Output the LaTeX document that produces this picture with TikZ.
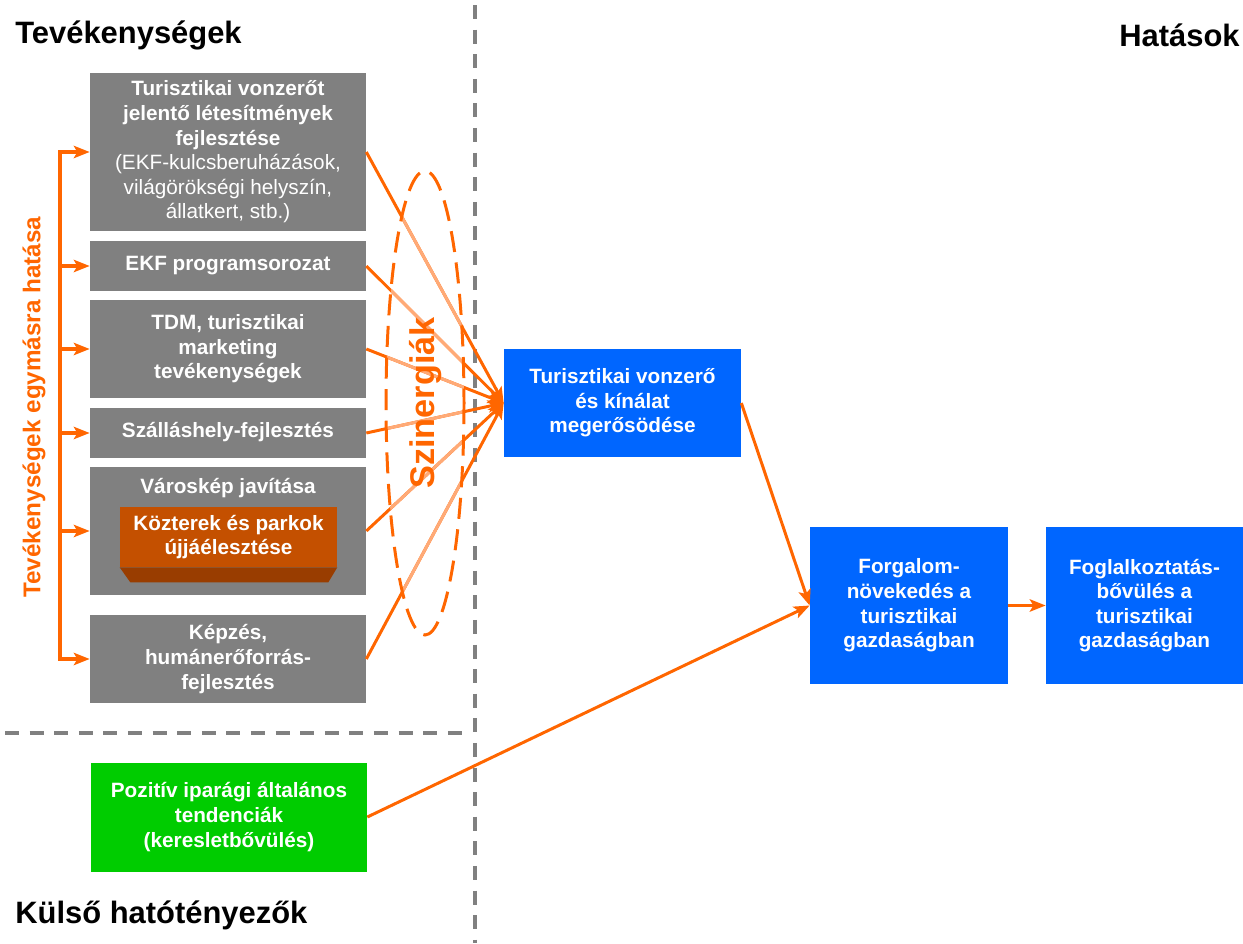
\documentclass[tikz,border=0pt]{standalone}
\usepackage{fontspec}
\setmainfont{Liberation Sans}
\usetikzlibrary{arrows.meta}

\definecolor{effor}{HTML}{FF6600}
\definecolor{efflight}{HTML}{FFAA77}
\definecolor{boxgray}{HTML}{808080}
\definecolor{effblue}{HTML}{0066FF}
\definecolor{effgreen}{HTML}{00CC00}
\definecolor{brick}{HTML}{C45000}
\definecolor{brickdark}{HTML}{993D00}

\begin{document}
\begin{tikzpicture}[x=0.02cm,y=-0.02cm,>={Stealth[length=9pt,width=7pt,inset=2pt]},
        box/.style={text=white,font=\fontsize{11.8}{14}\selectfont\bfseries,align=center,inner sep=0pt},
        gbox/.style={box,fill=boxgray,minimum width=5.52cm},
        bbox/.style={box,fill=effblue},
        hdr/.style={font=\fontsize{17.6}{20}\selectfont\bfseries,inner sep=0pt},
        conn/.style={->,draw=effor,line width=1.7pt},
        soft/.style={draw=efflight,line width=1.7pt},
        brace/.style={draw=effor,line width=2.3pt},
        sep/.style={draw=boxgray,line width=2pt,dash pattern=on 8pt off 6pt}]
        \useasboundingbox (0,0) rectangle (1243,943);

        % separators
        \draw[sep] (475,5) -- (475,943);
        \draw[sep] (5,733) -- (472,733);

        \node[hdr,anchor=base west] (tev) at (15,43) {Tevékenységek};
        \node[hdr,anchor=base east] (hat) at (1240,46) {Hatások};
        \node[hdr,anchor=base west] (kul) at (15,923) {Külső hatótényezők};

        % activities
        \node[gbox,minimum height=3.16cm] (k1) at (228,152) {Turisztikai vonzerőt\\jelentő létesítmények\\fejlesztése\\{\mdseries (EKF-kulcsberuházások,}\\{\mdseries világörökségi helyszín,}\\{\mdseries állatkert, stb.)}};
        \node[gbox,minimum height=1cm] (k2) at (228,266) {\strut EKF programsorozat};
        \node[gbox,minimum height=1.96cm] (k3) at (228,349) {TDM, turisztikai\\marketing\\tevékenységek};
        \node[gbox,minimum height=1cm] (k4) at (228,433) {\strut Szálláshely-fejlesztés};
        \node[gbox,minimum height=2.56cm] (k5) at (228,531) {};
        \node[box] (varos) at (228,489) {\strut Városkép javítása};
        \node[box,fill=brick,minimum width=4.34cm,minimum height=1.2cm] (kozter) at (228.5,537) {Közterek és parkok\\újjáélesztése};
        \fill[brickdark] (kozter.south west) -- (kozter.south east) -- ++(-9,15) -- ++(-198,0) -- cycle;
        \node[gbox,minimum height=1.76cm] (k6) at (228,659) {Képzés,\\humánerőforrás-\\fejlesztés};

        \node[box,fill=effgreen,minimum width=5.52cm,minimum height=2.18cm] (pozitiv) at (229,817) {Pozitív iparági általános\\tendenciák\\(keresletbővülés)};

        % effects
        \node[bbox,minimum width=4.74cm,minimum height=2.16cm] (vonz) at (622.5,403) {Turisztikai vonzerő\\és kínálat\\megerősödése};
        \node[bbox,minimum width=3.96cm,minimum height=3.14cm] (forg) at (909,605.5) {Forgalom-\\növekedés a\\turisztikai\\gazdaságban};
        \node[bbox,minimum width=3.94cm,minimum height=3.14cm,node distance=4.71cm] (fogl) [right of=forg] {Foglalkoztatás-\\bővülés a\\turisztikai\\gazdaságban};

        % mutual effect bracket
        \coordinate (brx) at (60,0);
        \draw[brace,line cap=rect] (k1.west -| brx) -- (k6.west -| brx);
        \foreach \b in {k1,k2,k3,k4,k5,k6}
            \draw[brace,->] (\b.west -| brx) -- (\b.west);
        \node[rotate=90,text=effor,font=\fontsize{13.8}{16}\selectfont\bfseries,inner sep=0pt] (egym) at (34,407) {Tevékenységek egymásra hatása};

        \path (k1.east) edge[conn] (vonz.west)
              (k2.east) edge[conn] (vonz.west)
              (k3.east) edge[conn] (vonz.west)
              (k4.east) edge[conn] (vonz.west)
              (k5.east) edge[conn] (vonz.west)
              (k6.east) edge[conn] (vonz.west)
              (vonz.east) edge[conn] (forg.west)
              (pozitiv.east) edge[conn] (forg.west)
              (forg.east) edge[conn] (fogl.west);

        % synergies
        \begin{scope}
            \clip (425,403) ellipse [x radius=39,y radius=232];
            \foreach \b in {k1,k2,k3,k4,k5,k6}
                \draw[soft] (\b.east) -- (vonz.west);
        \end{scope}
        \draw[effor,line width=1.7pt,dash pattern=on 12pt off 6pt] (425,403) ellipse [x radius=39,y radius=232];
        \node[rotate=90,text=effor,font=\fontsize{19.5}{22}\selectfont\bfseries,inner sep=0pt] (szin) at (426,403) {Szinergiák};
\end{tikzpicture}
\end{document}
